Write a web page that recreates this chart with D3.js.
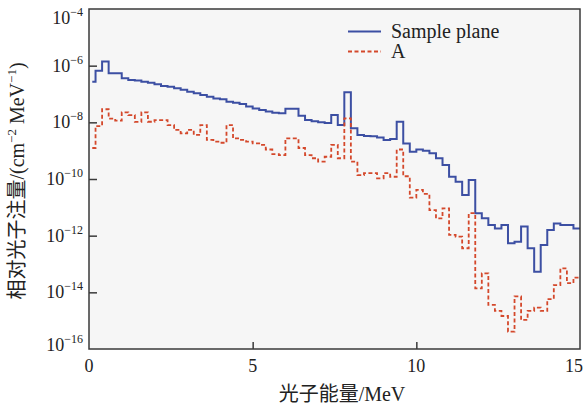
<!DOCTYPE html>
<html>
<head>
<meta charset="utf-8">
<script src="https://cdnjs.cloudflare.com/ajax/libs/d3/7.8.5/d3.min.js"></script>
<style>
  body { margin: 0; background: #fff; }
  text { font-family: "Liberation Serif", "Times New Roman", "Noto Sans CJK SC", serif; fill: #222; }
</style>
</head>
<body>
<script>
// bin edges in MeV (first bin starts at 0.1)
var binEdges = [0.1, 0.2, 0.4, 0.6, 0.8, 1.0, 1.2, 1.4, 1.6, 1.8, 2.0, 2.2, 2.4, 2.6, 2.8,
  3.0, 3.2, 3.4, 3.6, 3.8, 4.0, 4.2, 4.4, 4.6, 4.8, 5.0, 5.2, 5.4, 5.6, 5.8, 6.0, 6.2, 6.4,
  6.6, 6.8, 7.0, 7.2, 7.4, 7.6, 7.8, 8.0, 8.2, 8.4, 8.6, 8.8, 9.0, 9.2, 9.4, 9.6, 9.8, 10.0,
  10.2, 10.4, 10.6, 10.8, 11.0, 11.2, 11.4, 11.6, 11.8, 12.0, 12.2, 12.4, 12.6, 12.8, 13.0,
  13.2, 13.4, 13.6, 13.8, 14.0, 14.2, 14.4, 14.6, 14.8, 15.0]

var samplePlane = [2.7e-7, 6.6e-7, 1.4e-6, 5.4e-7, 5.4e-7, 3.6e-7, 3.1e-7, 3.0e-7, 2.7e-7, 2.5e-7,
  2.2e-7, 1.9e-7, 1.8e-7, 1.6e-7, 1.4e-7, 1.2e-7, 1.06e-7, 9.2e-8, 8.0e-8, 7.0e-8,
  6.5e-8, 5.3e-8, 4.9e-8, 4.4e-8, 3.6e-8, 3.1e-8, 2.7e-8, 2.4e-8, 2.2e-8, 2.1e-8,
  3.0e-8, 3.0e-8, 1.7e-8, 1.2e-8, 1.1e-8, 1.0e-8, 9.5e-9, 1.8e-8, 8.0e-9, 1.15e-7,
  6.2e-9, 3.6e-9, 3.3e-9, 3.2e-9, 2.9e-9, 2.4e-9, 2.6e-9, 1.05e-8, 1.8e-9, 9.2e-10,
  1.1e-9, 1.0e-9, 8.1e-10, 5.4e-10, 3.1e-10, 1.2e-10, 8.0e-11, 2.7e-11, 9.2e-11, 6.2e-12,
  4.1e-12, 2.4e-12, 1.8e-12, 2.4e-12, 5.4e-13, 6.1e-13, 2.1e-12, 3.6e-13, 5.3e-14, 4.7e-13,
  1.6e-12, 2.7e-12, 2.4e-12, 2.4e-12, 1.8e-12]

var curveA = [1.24e-9, 7.4e-9, 2.9e-8, 1.36e-8, 1.14e-8, 2.26e-8, 1.8e-8, 1.03e-8, 2.26e-8, 1.05e-8,
  1.2e-8, 1.2e-8, 8.0e-9, 5.4e-9, 4.1e-9, 5.4e-9, 3.6e-9, 8.0e-9, 2.4e-9, 2.1e-9,
  1.9e-9, 8.0e-9, 2.7e-9, 2.4e-9, 2.1e-9, 1.8e-9, 1.6e-9, 1.1e-9, 7.6e-10, 7.0e-10,
  2.7e-9, 2.7e-9, 1.24e-9, 7.0e-10, 5.4e-10, 4.1e-10, 6.1e-10, 1.6e-9, 5.4e-10, 1.39e-8,
  4.1e-10, 1.38e-10, 1.6e-10, 1.6e-10, 1.06e-10, 1.6e-10, 1.2e-10, 1.1e-9, 1.25e-10, 2.2e-11,
  4.1e-11, 3.0e-11, 8.0e-12, 4.1e-12, 9.2e-12, 1.06e-12, 9.2e-13, 3.6e-13, 6.2e-12, 1.39e-14,
  4.7e-14, 3.6e-15, 2.2e-15, 1.46e-15, 4.1e-16, 7.2e-15, 1.06e-15, 2.2e-15, 2.9e-15, 2.2e-15,
  5.8e-15, 1.8e-14, 7.0e-14, 2.1e-14, 3.3e-14]

var yTicks = [1e-4, 1e-6, 1e-8, 1e-10, 1e-12, 1e-14, 1e-16]
var yTickExps = ["\u22124", "\u22126", "\u22128", "\u221210", "\u221212", "\u221214", "\u221216"]
var xTicks = [0, 5, 10, 15]
var seriesNames = ["Sample plane", "A"]

var width = 585,
    height = 405,
    plotLeft = 89,
    plotRight = 580,
    plotTop = 9,
    plotBottom = 349

var blue = "#3c4fa3",
    red = "#d4482b",
    axisColor = "#3a3a3a"

var svg = d3.select("body")
  .append("svg")
  .attr("width", width)
  .attr("height", height)

var x = d3.scaleLinear().domain([0, 15]).range([plotLeft, plotRight])
var y = d3.scaleLog().domain([1e-16, 1e-4]).range([plotBottom, plotTop])

svg.append("rect")
  .attr("x", plotLeft)
  .attr("y", plotTop)
  .attr("width", plotRight - plotLeft)
  .attr("height", plotBottom - plotTop)
  .attr("fill", "#f6f6f6")

function stepPoints(values) {
  var pts = values.map(function(v, i) { return [binEdges[i], v] })
  pts.push([binEdges[values.length], values[values.length - 1]])
  return pts
}

var stepLine = d3.line()
  .x(function(d) { return x(d[0]) })
  .y(function(d) { return y(d[1]) })
  .curve(d3.curveStepAfter)

svg.append("path")
  .attr("d", stepLine(stepPoints(samplePlane)))
  .attr("fill", "none")
  .attr("stroke", blue)
  .attr("stroke-width", 2)

svg.append("path")
  .attr("d", stepLine(stepPoints(curveA)))
  .attr("fill", "none")
  .attr("stroke", red)
  .attr("stroke-width", 1.8)
  .attr("stroke-dasharray", "4,2.5")

// ticks (pointing inward)
svg.append("g")
  .attr("transform", "translate(" + plotLeft + ",0)")
  .call(d3.axisLeft(y).tickValues(yTicks.slice(1, -1)).tickSizeInner(-8).tickSizeOuter(0).tickFormat(""))
  .call(function(g) { g.select(".domain").remove() })
  .selectAll("line").attr("stroke", axisColor).attr("stroke-width", 1.5)

svg.append("g")
  .attr("transform", "translate(0," + plotBottom + ")")
  .call(d3.axisBottom(x).tickValues(xTicks.slice(1, -1)).tickSizeInner(-7).tickSizeOuter(0).tickFormat(""))
  .call(function(g) { g.select(".domain").remove() })
  .selectAll("line").attr("stroke", axisColor).attr("stroke-width", 1.5)

// frame
svg.append("rect")
  .attr("x", plotLeft)
  .attr("y", plotTop)
  .attr("width", plotRight - plotLeft)
  .attr("height", plotBottom - plotTop)
  .attr("fill", "none")
  .attr("stroke", axisColor)
  .attr("stroke-width", 1.5)

// y tick labels
var yLabels = svg.selectAll(".ylab")
  .data(yTicks)
  .enter().append("text")
  .attr("class", "ylab")
  .attr("x", 83)
  .attr("y", function(d) { return Math.min(Math.max(y(d), 18), 345) + 6 })
  .attr("text-anchor", "end")
  .style("font-size", "18px")

yLabels.append("tspan").text("10")
yLabels.append("tspan")
  .attr("dy", -8)
  .style("font-size", "12px")
  .text(function(d, i) { return yTickExps[i] })

// x tick labels
svg.selectAll(".xlab")
  .data(xTicks)
  .enter().append("text")
  .attr("class", "xlab")
  .attr("x", function(d) { return d === 15 ? 583 : x(d) })
  .attr("y", 372)
  .attr("text-anchor", function(d) { return d === 15 ? "end" : "middle" })
  .style("font-size", "18px")
  .text(function(d) { return d })

// axis titles
svg.append("text")
  .attr("x", 342)
  .attr("y", 401)
  .attr("text-anchor", "middle")
  .style("font-size", "20px")
  .text("光子能量/MeV")

var yTitle = svg.append("text")
  .attr("transform", "translate(24,181) rotate(-90)")
  .attr("text-anchor", "middle")
  .style("font-size", "20px")

yTitle.append("tspan").text("相对光子注量/(cm")
yTitle.append("tspan").attr("dy", -8).style("font-size", "13px").text("\u22122")
yTitle.append("tspan").attr("dy", 8).text(" MeV")
yTitle.append("tspan").attr("dy", -8).style("font-size", "13px").text("\u22121")
yTitle.append("tspan").attr("dy", 8).text(")")

// legend
var legend = svg.selectAll(".legend")
  .data(seriesNames)
  .enter().append("g")
  .attr("class", "legend")
  .attr("transform", function(d, i) { return "translate(348," + (31.5 + i * 20) + ")" })

legend.append("line")
  .attr("x1", 0)
  .attr("x2", 33)
  .attr("stroke", function(d, i) { return i === 0 ? blue : red })
  .attr("stroke-width", 1.8)
  .attr("stroke-dasharray", function(d, i) { return i === 0 ? null : "4,2.5" })

legend.append("text")
  .attr("x", 43)
  .attr("y", 6.5)
  .style("font-size", "20px")
  .text(function(d) { return d })
</script>
</body>
</html>
